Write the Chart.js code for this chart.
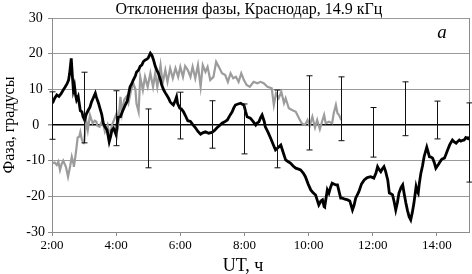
<!DOCTYPE html>
<html>
<head>
<meta charset="utf-8">
<script src="https://cdn.jsdelivr.net/npm/chart.js@4.4.1/dist/chart.umd.min.js"></script>
<style>
  html, body { margin: 0; padding: 0; background: #fff; }
</style>
</head>
<body>
<canvas id="phaseChart" width="472" height="274"></canvas>
<script>
// time in minutes UT, phase in degrees
const blackTime = [121,125,129,133,137,141,144,148,151,153,156,158,160,162,164,166,169,173,176,178,181,184,188,191,194,197,201,203,207,210,213,216,219,223,225,227,230,232,235,238,240,242,244,248,251,257,261,263,266,269,272,276,278,282,285,288,291,294,297,300,304,307,310,313,316,319,323,325,329,332,335,338,341,344,347,351,353,355,359,362,366,369,374,379,383,388,393,398,402,407,413,419,424,429,433,438,443,448,452,457,460,463,468,473,476,479,482,485,488,491,496,501,503,507,510,513,517,519,524,529,533,538,543,548,552,557,562,566,571,576,580,585,590,594,599,604,608,613,617,619,623,626,629,630,635,638,641,644,651,654,657,660,663,668,673,677,682,685,688,694,699,704,709,713,716,722,726,729,732,735,738,741,744,748,751,754,757,760,763,766,769,773,776,779,782,785,788,791,794,797,801,803,805,807,810,813,816,821,826,829,832,835,838,843,848,850,854,857,860,864,869,873,876,879,882,885,888,891,894,898,900];
const blackPhase = [6.1,7.5,8.4,8.0,8.8,9.8,10.5,11.5,12.6,14.5,18.7,14,9.8,11,8.5,7,8,4,3.7,2.4,1.4,3,4.2,5,6.5,7.5,8.9,7.8,6.1,4.5,3,0.5,-0.5,-1.4,-3,-4.7,-3,-1.5,-0.9,-2,-2.8,0.5,2.2,2.3,3.5,5.6,6.8,8.5,10.7,11.5,12.6,13.8,14.8,15.4,16.5,16.8,17.8,18.2,18.4,18.8,20.1,19.5,18.2,16.5,15.4,14.5,12.6,11.3,9.8,9.0,8.3,7.5,6.5,6.0,5.6,7.0,7.9,6.0,4.7,4.5,3.7,2.8,1.2,1.0,0.2,-0.7,-1.8,-2.6,-2.2,-1.9,-2.3,-2.1,-1.5,-0.7,-0.2,0.5,0.9,1.4,2.5,3.7,4.8,5.6,5.9,6.1,5.8,5.6,3.8,2.3,2.1,1.9,1.0,0,0.5,0.9,2.0,2.8,1.0,-0.5,-2.0,-3.7,-5.2,-7,-6.3,-5.6,-7.5,-9.8,-10.3,-10.7,-11.5,-12.1,-12.3,-12.6,-13.5,-14.5,-16.5,-18.2,-18.9,-19.6,-21.5,-22.4,-21.3,-21,-22.9,-23,-18.2,-19.1,-17.5,-16.3,-16.8,-16.8,-18.7,-20.5,-20.5,-20.8,-21,-21.3,-23.8,-22.5,-20.5,-18.7,-16.5,-15.4,-14.8,-14.6,-14.5,-14.9,-13.5,-11.7,-12.5,-13.1,-12.3,-11.7,-13,-15.4,-19.1,-19.3,-19.6,-21.5,-23.8,-21.8,-19.1,-17.5,-16.8,-19.5,-21.9,-24,-25.7,-26.6,-24.5,-21.9,-17.3,-18.5,-19.1,-16.5,-13.5,-11.5,-8.9,-6.2,-8.9,-9,-9.3,-10.5,-12.1,-11,-9.8,-9.5,-9.3,-8.2,-7,-5.5,-4.2,-4.8,-5.1,-4.6,-4.2,-4.5,-4.3,-4.2,-3.5,-3.8,-3.3];

const grayTime = [121,125,129,132,135,138,141,146,150,154,157,160,161,164,166,168,171,173,176,179,180,184,187,191,196,200,203,205,209,213,217,219,224,226,229,232,236,241,244,248,251,255,259,263,268,272,276,278,282,285,290,294,299,304,309,313,317,323,327,332,336,341,346,351,356,360,365,369,374,379,383,388,393,398,402,407,411,416,422,427,432,438,444,449,454,459,464,469,474,479,484,490,497,504,510,516,523,531,535,539,544,549,554,557,563,569,576,582,587,593,598,602,607,612,616,621,626,629,632,638,644,647,651,654,657,661];
const grayPhase = [-10.7,-10.5,-11.2,-10.3,-12.6,-11,-10,-11.7,-14.5,-11.5,-8.9,-10.7,-11.7,-8.5,-6.1,-3.5,-3.3,-2.0,-4.2,-5.1,-5.1,1.4,-1.4,2.8,0.5,1.2,0.9,-0.2,-0.5,0.9,-0.5,-1.9,0,-1.5,-2.8,0,1.4,3.3,0.5,7.9,3.3,7.0,7.9,6.1,9.8,11.7,10.0,6.0,3.7,13.5,9.8,13.5,10.7,14.5,10.7,14.5,10.7,16.8,11.7,15.4,12.1,15.9,13.1,15.9,13.5,16.3,13.5,16.5,15.4,13.5,16.3,13.1,16.8,10.7,16.8,14.9,16.3,12.6,13.5,17.7,16.3,14.5,14.0,12.1,14.5,13.1,13.5,12.1,14.5,12.6,11.2,10.7,12.1,11.7,12.1,11.7,10.7,10.3,5.6,8.9,7.5,9.3,6.1,7.5,4.7,4.2,3.7,1.9,0.5,0,1.4,-0.3,2.3,-0.7,1.4,-1.2,1.4,2.8,0.5,0.9,0.5,3.3,5.6,3.3,2.8,1.4];

// error bars every hour
const errTime = [120,180,240,300,360,420,480,540,600,660,720,780,840,900];
const errHigh = [9.3,14.8,9.6,4.5,9.2,6.8,5.9,9.8,13.8,13.5,4.9,12.1,6.7,6.2];
const errLow  = [-4,-5,-5.8,-12,-3.9,-6.5,-8.1,-12,-7,-4.4,-9,-3,-3.9,-16];

const xTickTime = [120,240,360,480,600,720,840];
const xTickLabels = ['2:00','4:00','6:00','8:00','10:00','12:00','14:00'];

const serif = "'Liberation Serif', 'Times New Roman', serif";

const toPoints = (xs, ys) => xs.map((x, i) => ({ x: x, y: ys[i] }));

// frame, error bars and text labels
const extras = {
  id: 'extras',
  beforeDatasetsDraw(chart) {
    const { ctx, chartArea: a } = chart;
    ctx.save();
    ctx.strokeStyle = '#8c8c8c';
    ctx.lineWidth = 1;
    ctx.beginPath();
    ctx.moveTo(a.right + 0.5, a.top);
    ctx.lineTo(a.right + 0.5, a.bottom);
    ctx.stroke();
    ctx.restore();
  },
  afterDatasetsDraw(chart) {
    const { ctx, scales: { x, y } } = chart;
    ctx.save();
    ctx.strokeStyle = '#111';
    ctx.lineWidth = 1;
    errTime.forEach((t, i) => {
      const px = Math.round(x.getPixelForValue(t)) + 0.5;
      const top = y.getPixelForValue(errHigh[i]);
      const bot = y.getPixelForValue(errLow[i]);
      ctx.beginPath();
      ctx.moveTo(px, top); ctx.lineTo(px, bot);
      ctx.moveTo(px - 3, top); ctx.lineTo(px + 3, top);
      ctx.moveTo(px - 3, bot); ctx.lineTo(px + 3, bot);
      ctx.stroke();
    });
    ctx.restore();
  },
  afterDraw(chart) {
    const { ctx, chartArea: a } = chart;
    ctx.save();
    ctx.fillStyle = '#000';
    ctx.textBaseline = 'alphabetic';
    ctx.textAlign = 'center';
    ctx.font = '16px ' + serif;
    ctx.fillText('Отклонения фазы, Краснодар, 14.9 кГц', 249, 14);
    ctx.font = '18px ' + serif;
    ctx.fillText('UT, ч', 243, 271);
    ctx.font = 'italic 19px ' + serif;
    ctx.fillText('а', a.right - 27, a.top + 20);
    ctx.restore();
  }
};

new Chart(document.getElementById('phaseChart'), {
  type: 'line',
  data: {
    datasets: [{
      data: toPoints(blackTime, blackPhase),
      borderColor: '#000',
      borderWidth: 2.8,
      pointRadius: 0,
      tension: 0
    }, {
      data: toPoints(grayTime, grayPhase),
      borderColor: '#9c9c9c',
      borderWidth: 2.2,
      pointRadius: 0,
      tension: 0
    }]
  },
  options: {
    responsive: false,
    devicePixelRatio: 1,
    animation: false,
    layout: { padding: { top: 18, right: 3, bottom: 0, left: 0 } },
    plugins: {
      legend: { display: false },
      tooltip: { enabled: false }
    },
    scales: {
      x: {
        type: 'linear',
        min: 120,
        max: 900,
        afterFit: s => { s.height = 42; },
        afterBuildTicks: s => { s.ticks = xTickTime.map(v => ({ value: v })); },
        ticks: {
          font: { family: serif, size: 13 },
          color: '#000',
          padding: 2,
          maxRotation: 0,
          callback: v => xTickLabels[xTickTime.indexOf(v)]
        },
        grid: { drawOnChartArea: false, drawTicks: true, tickLength: 4, color: '#8c8c8c' },
        border: { color: '#8c8c8c' }
      },
      y: {
        min: -30,
        max: 30,
        afterFit: s => { s.width = 52; },
        ticks: {
          stepSize: 10,
          font: { family: serif, size: 14 },
          color: '#000',
          padding: 3,
          crossAlign: 'center'
        },
        grid: {
          color: c => c.tick && c.tick.value === 0 ? '#000' : '#9a9a9a',
          lineWidth: c => c.tick && c.tick.value === 0 ? 1.5 : 1,
          tickColor: '#8c8c8c',
          tickLength: 4
        },
        border: { color: '#8c8c8c' },
        title: {
          display: true,
          text: 'Фаза, градусы',
          font: { family: serif, size: 16 },
          color: '#000',
          padding: 0
        }
      }
    }
  },
  plugins: [extras]
});
</script>
</body>
</html>
